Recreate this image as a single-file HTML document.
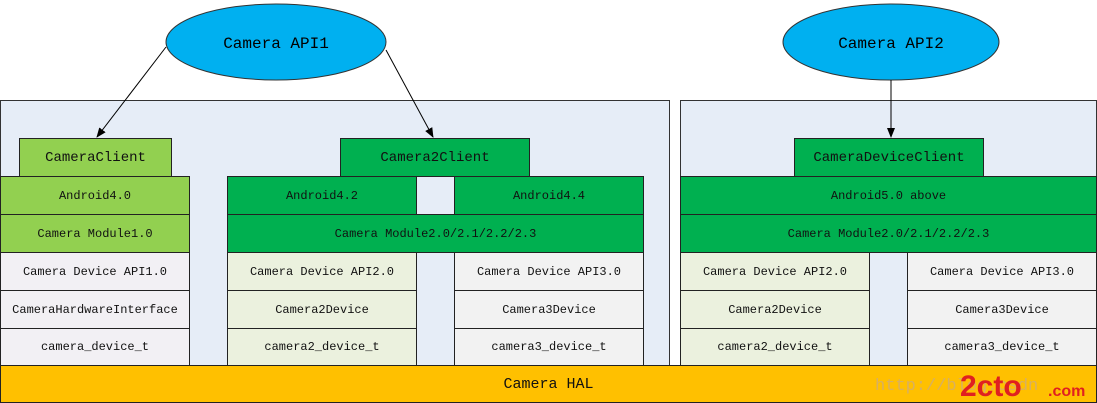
<!DOCTYPE html>
<html><head><meta charset="utf-8"><style>
body{margin:0;width:1097px;height:403px;background:#fff;position:relative;overflow:hidden;font-family:"Liberation Mono","Noto Serif CJK SC",monospace;}
.b{position:absolute;box-sizing:border-box;border:1px solid #222;display:flex;align-items:center;justify-content:center;font-size:12px;color:#111;}
.p{position:absolute;box-sizing:border-box;border:1px solid #333;background:#e6edf7;}
.lg{background:#92d050}.g{background:#00b050}.w{background:#f2f0f4}.e{background:#ebf1de}.s{background:#f2f2f2}
.c{font-size:14px}
</style></head><body>
<div class="p" style="left:0;top:100px;width:670px;height:266px"></div>
<div class="p" style="left:680px;top:100px;width:417px;height:266px"></div>

<div class="b lg c" style="left:19px;top:138px;width:153px;height:39px">CameraClient</div>
<div class="b lg" style="left:0;top:176px;width:190px;height:39px">Android4.0</div>
<div class="b lg" style="left:0;top:214px;width:190px;height:39px">Camera Module1.0</div>
<div class="b w" style="left:0;top:252px;width:190px;height:39px">Camera Device API1.0</div>
<div class="b w" style="left:0;top:290px;width:190px;height:39px">CameraHardwareInterface</div>
<div class="b w" style="left:0;top:328px;width:190px;height:38px">camera_device_t</div>

<div class="b g c" style="left:340px;top:138px;width:190px;height:39px">Camera2Client</div>
<div class="b g" style="left:227px;top:176px;width:190px;height:39px">Android4.2</div>
<div class="b g" style="left:454px;top:176px;width:190px;height:39px">Android4.4</div>
<div class="b g" style="left:227px;top:214px;width:417px;height:39px">Camera Module2.0/2.1/2.2/2.3</div>
<div class="b e" style="left:227px;top:252px;width:190px;height:39px">Camera Device API2.0</div>
<div class="b e" style="left:227px;top:290px;width:190px;height:39px">Camera2Device</div>
<div class="b e" style="left:227px;top:328px;width:190px;height:38px">camera2_device_t</div>
<div class="b s" style="left:454px;top:252px;width:190px;height:39px">Camera Device API3.0</div>
<div class="b s" style="left:454px;top:290px;width:190px;height:39px">Camera3Device</div>
<div class="b s" style="left:454px;top:328px;width:190px;height:38px">camera3_device_t</div>

<div class="b g c" style="left:794px;top:138px;width:190px;height:39px">CameraDeviceClient</div>
<div class="b g" style="left:680px;top:176px;width:417px;height:39px">Android5.0 above</div>
<div class="b g" style="left:680px;top:214px;width:417px;height:39px">Camera Module2.0/2.1/2.2/2.3</div>
<div class="b e" style="left:680px;top:252px;width:190px;height:39px">Camera Device API2.0</div>
<div class="b e" style="left:680px;top:290px;width:190px;height:39px">Camera2Device</div>
<div class="b e" style="left:680px;top:328px;width:190px;height:38px">camera2_device_t</div>
<div class="b s" style="left:907px;top:252px;width:190px;height:39px">Camera Device API3.0</div>
<div class="b s" style="left:907px;top:290px;width:190px;height:39px">Camera3Device</div>
<div class="b s" style="left:907px;top:328px;width:190px;height:38px">camera3_device_t</div>

<div class="b" style="left:0;top:365px;width:1097px;height:38px;background:#ffc000;font-size:15px">Camera HAL</div>

<svg width="1097" height="403" style="position:absolute;left:0;top:0">
<defs><marker id="a" markerWidth="10" markerHeight="10" refX="9" refY="5" orient="auto" markerUnits="userSpaceOnUse"><path d="M0,1 L10,5 L0,9 z" fill="#000"/></marker></defs>
<ellipse cx="276" cy="42" rx="110" ry="38" fill="#00b0f0" stroke="#333"/>
<text x="276" y="48" font-size="16" text-anchor="middle" font-family="Liberation Mono,monospace">Camera API1</text>
<ellipse cx="891" cy="42" rx="108" ry="38" fill="#00b0f0" stroke="#333"/>
<text x="891" y="48" font-size="16" text-anchor="middle" font-family="Liberation Mono,monospace">Camera API2</text>
<line x1="166" y1="47" x2="97" y2="137" stroke="#000" marker-end="url(#a)"/>
<line x1="386" y1="50" x2="433" y2="137" stroke="#000" marker-end="url(#a)"/>
<line x1="891" y1="80" x2="891" y2="137" stroke="#000" marker-end="url(#a)"/>
<text x="875" y="390" font-size="17" fill="#d8b060" font-family="Liberation Mono,monospace">http://blog.csdn</text>
<text x="960" y="396" font-size="30" font-weight="bold" fill="#e02020" font-family="Liberation Sans,sans-serif">2cto</text>
<text x="1048" y="396" font-size="16" font-weight="bold" fill="#e02020" font-family="Liberation Sans,sans-serif">.com</text>
</svg>
</body></html>
